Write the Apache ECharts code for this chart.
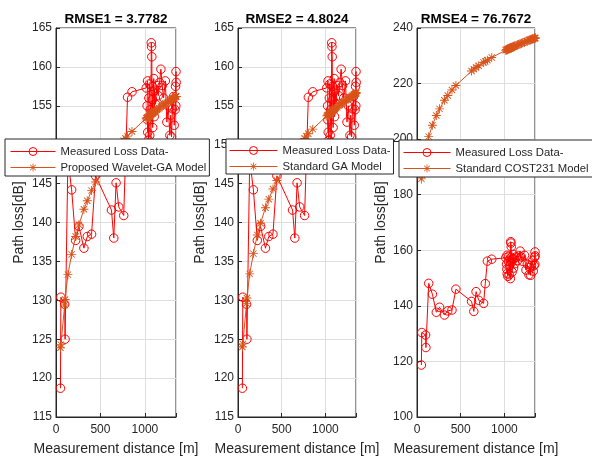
<!DOCTYPE html>
<html><head><meta charset="utf-8">
<script src="https://cdn.jsdelivr.net/npm/echarts@6/dist/echarts.min.js"></script>
<style>html,body{margin:0;padding:0;background:#fff}#c{width:592px;height:461px}</style>
</head><body><div id="c"></div>
<script>
// ---- data ----
const distance = [50,55,98,102,134,176,221,258,314,352,400,445,624,650,676,706,762,781,805,855,
  1015,1030,1025,1032,1028,1040,1045,1050,1060,1055,1068,1072,1075,1078,1080,1085,1088,1095,1100,1105,1110,1120,1135,1150,1165,
  1180,1195,1210,1230,1247,1262,1281,1290,1300,1310,1322,1330,1340,1345,1350,1352,1348];
const measuredLoss = [118.7,130.4,129.5,125.0,148.1,144.2,137.7,139.5,136.7,138.2,138.5,146.0,141.6,138.0,145.1,142.0,140.9,148.0,156.1,156.8,
  157.3,158.2,155.0,151.6,153.2,150.6,156.0,157.8,154.5,151.2,149.8,163.1,162.6,161.3,157.5,155.8,152.2,156.8,158.5,153.6,157.0,155.2,157.6,156.3,158.0,
  159.7,157.6,156.0,158.2,152.9,155.0,151.2,153.8,151.0,154.6,156.2,152.5,154.5,157.5,159.4,158.0,155.0];
const waveletGAModel = [123.9,124.3,129.4,130.1,133.3,135.9,138.2,139.7,141.7,142.8,144.1,145.2,148.5,148.9,149.3,149.8,150.5,150.8,151.1,151.7,
  153.4,153.5,153.5,153.5,153.5,153.6,153.6,153.7,153.8,153.7,153.9,153.9,154.0,154.0,154.0,154.0,154.1,154.1,154.2,154.2,154.3,154.3,154.5,154.6,154.7,
  154.9,155.0,155.1,155.3,155.4,155.5,155.7,155.7,155.8,155.9,156.0,156.0,156.1,156.2,156.2,156.2,156.2];
const standardGAModel = [124.0,124.4,129.6,130.3,133.4,136.0,138.4,139.9,141.9,143.0,144.3,145.4,148.8,149.2,149.6,150.1,150.8,151.1,151.4,152.0,
  153.7,153.8,153.8,153.8,153.8,153.9,153.9,154.0,154.1,154.0,154.2,154.2,154.3,154.3,154.3,154.4,154.4,154.5,154.5,154.6,154.6,154.7,154.8,155.0,155.1,
  155.3,155.4,155.5,155.7,155.8,155.9,156.1,156.1,156.2,156.3,156.4,156.5,156.5,156.6,156.6,156.7,156.6];
const cost231Model = [185.7,187.2,196.1,196.7,200.9,205.0,208.5,210.9,214.0,215.7,217.7,219.3,224.5,225.2,225.8,226.4,227.6,228.0,228.4,229.4,
  232.0,232.2,232.2,232.2,232.2,232.4,232.4,232.5,232.7,232.6,232.8,232.8,232.9,232.9,232.9,233.0,233.1,233.2,233.2,233.3,233.4,233.5,233.7,233.9,234.1,
  234.3,234.5,234.7,234.9,235.2,235.3,235.6,235.7,235.8,235.9,236.1,236.1,236.3,236.3,236.4,236.4,236.4];
const titles = ['RMSE1 = 3.7782', 'RMSE2 = 4.8024', 'RMSE4 = 76.7672'];
const measuredName = 'Measured Loss Data-';
const modelNames = ['Proposed Wavelet-GA Model', 'Standard GA Model', 'Standard COST231 Model'];
const models = [waveletGAModel, standardGAModel, cost231Model];
const xTicks = [0, 500, 1000];
const xRange = [0, 1350];
const yRanges = [[115, 165, 5], [115, 165, 5], [100, 240, 20]];
const xName = 'Measurement distance [m]';
const yName = 'Path loss[dB]';

// ---- layout / styles ----
const FONT = 'Liberation Sans, Arial, sans-serif';
const AX = '#262626';
const RED = '#ff0000';
const ORANGE = '#D95319';
const STAR = 'path://M9 0L11 0L11 20L9 20ZM0 9L20 9L20 11L0 11ZM3.7 2.3L17.7 16.3L16.3 17.7L2.3 3.7ZM16.3 2.3L17.7 3.7L3.7 17.7L2.3 16.3Z';
const grids = [
  {left: 56, top: 28, width: 120, height: 393},
  {left: 238, top: 28, width: 118, height: 392},
  {left: 417, top: 28, width: 118, height: 394}
];
const legendPos = [
  {left: 5, top: 139, itemWidth: 45, padding: [7, 3, 3, 5]},
  {left: 226, top: 139, itemWidth: 48, padding: [6, 3, 2, 3]},
  {left: 399, top: 140, itemWidth: 47, padding: [7, 4, 3, 4]}
];
const yNameGap = [30, 31, 29];

const pairs = arr => distance.map((d, i) => [d, arr[i]]);

const option = {
  animation: false,
  backgroundColor: '#fff',
  textStyle: {fontFamily: FONT},
  grid: grids.map(g => Object.assign({show: true, borderColor: AX, borderWidth: 1, containLabel: false}, g)),
  graphic: titles.map((t, k) => ({
    type: 'text', x: grids[k].left + grids[k].width / 2, y: 19, z: 10,
    style: {text: t, align: 'center', verticalAlign: 'middle', fontSize: 13.5, fontWeight: 'bold', fontFamily: FONT, fill: '#000'}
  })),
  legend: legendPos.map((p, k) => ({
    data: [measuredName, modelNames[k]], orient: 'vertical', left: p.left, top: p.top,
    itemWidth: p.itemWidth, itemHeight: 10, itemGap: 5, padding: p.padding,
    backgroundColor: '#fff', borderColor: AX, borderWidth: 1, borderRadius: 0,
    selectedMode: false, z: 20,
    lineStyle: {width: 1},
    itemStyle: {borderWidth: 1},
    textStyle: {fontSize: 11.3, color: AX, fontFamily: FONT}
  })),
  xAxis: grids.map((g, k) => ({
    type: 'value', gridIndex: k, min: xRange[0], max: xRange[1], interval: 500,
    name: xName, nameLocation: 'middle', nameGap: 25,
    nameTextStyle: {fontSize: 14, color: AX, fontFamily: FONT},
    axisLine: {show: true, lineStyle: {color: AX}},
    axisTick: {show: true, inside: true, length: 4, lineStyle: {color: AX}},
    axisLabel: {fontSize: 12, color: AX, margin: 7, fontFamily: FONT,
      formatter: v => (xTicks.indexOf(v) >= 0 ? String(v) : '')},
    splitLine: {show: true, lineStyle: {color: '#dedede'}}
  })),
  yAxis: grids.map((g, k) => ({
    type: 'value', gridIndex: k, min: yRanges[k][0], max: yRanges[k][1], interval: yRanges[k][2],
    name: yName, nameLocation: 'middle', nameGap: yNameGap[k],
    nameTextStyle: {fontSize: 14, color: AX, fontFamily: FONT},
    axisLine: {show: true, lineStyle: {color: AX}},
    axisTick: {show: true, inside: true, length: 4, lineStyle: {color: AX}},
    axisLabel: {fontSize: 12, color: AX, margin: 4, fontFamily: FONT},
    splitLine: {show: true, lineStyle: {color: '#dedede'}}
  })),
  series: []
};
for (let k = 0; k < 3; k++) {
  option.series.push({
    type: 'line', name: measuredName, xAxisIndex: k, yAxisIndex: k, data: pairs(measuredLoss),
    symbol: 'circle', symbolSize: 8.5, clip: false, z: 2,
    lineStyle: {color: RED, width: 1},
    itemStyle: {color: 'rgba(255,0,0,0)', borderColor: RED, borderWidth: 1},
    emphasis: {disabled: true}
  });
  option.series.push({
    type: 'line', name: modelNames[k], xAxisIndex: k, yAxisIndex: k, data: pairs(models[k]),
    symbol: STAR, symbolSize: 9, clip: false, z: 3,
    lineStyle: {color: ORANGE, width: 1},
    itemStyle: {color: ORANGE, borderWidth: 0},
    emphasis: {disabled: true}
  });
}
const chart = echarts.init(document.getElementById('c'), null, {renderer: 'canvas'});
chart.setOption(option);
</script>
</body></html>
